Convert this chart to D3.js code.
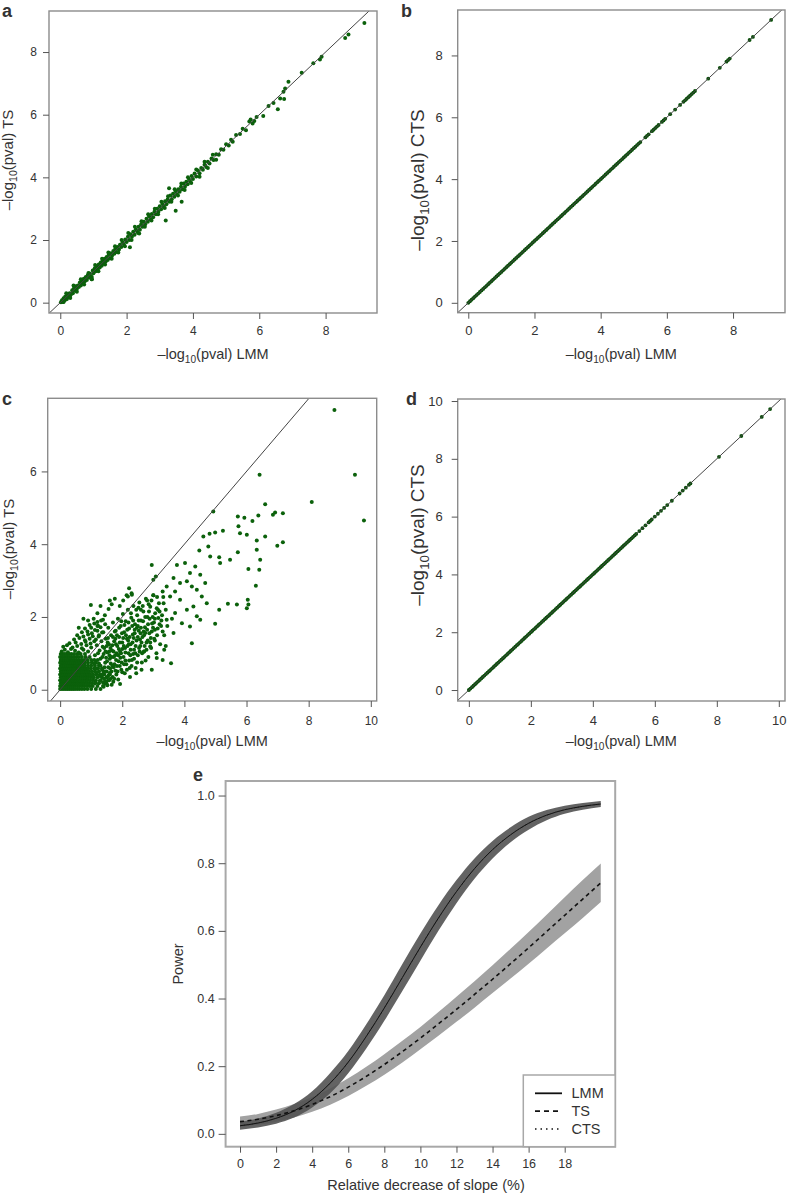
<!DOCTYPE html>
<html><head><meta charset="utf-8">
<script src="https://cdn.jsdelivr.net/npm/d3@7"></script>
<style>
body{margin:0;background:#fff}
text{font-family:"Liberation Sans",Arial,Helvetica,sans-serif;fill:#333}
</style>
</head><body>
<svg id="fig" width="787" height="1197"></svg>
<script>
// ---------------- DATA ----------------
// panel a: -log10 p LMM (x) vs TS (y)
const aPts = [[0.02,0.01],[0.05,0.08],[0.08,0.02],[0.1,0.14],[0.12,0.06],[0.15,0.2],[0.17,0.1],[0.2,0.12],[0.22,0.26],[0.25,0.18],[0.28,0.3],[0.3,0.22],[0.33,0.28],[0.36,0.4],[0.38,0.3],[0.41,0.45],[0.44,0.38],[0.47,0.52],[0.5,0.44],[0.53,0.55],[0.56,0.5],[0.59,0.64],[0.62,0.55],[0.65,0.7],[0.68,0.62],[0.71,0.76],[0.74,0.68],[0.77,0.82],[0.8,0.72],[0.83,0.88],[0.86,0.8],[0.89,0.93],[0.92,0.85],[0.95,0.75],[0.98,1.03],[1.0,0.94],[1.04,1.1],[1.07,1.0],[1.1,1.16],[1.13,1.06],[1.16,1.22],[1.19,1.12],[1.22,1.28],[1.25,1.18],[1.28,1.34],[1.31,1.24],[1.34,1.4],[1.37,1.31],[1.4,1.46],[1.43,1.36],[1.46,1.52],[1.5,1.42],[1.53,1.58],[1.56,1.5],[1.6,1.65],[1.63,1.56],[1.66,1.72],[1.7,1.62],[1.73,1.78],[1.77,1.7],[1.8,1.85],[1.84,1.78],[1.88,1.93],[1.92,1.85],[1.96,2.02],[2.0,1.94],[2.04,2.1],[2.08,2.0],[2.12,2.18],[2.16,2.1],[2.2,2.26],[2.24,2.17],[2.28,2.34],[2.32,2.26],[2.36,2.42],[2.4,2.33],[2.44,2.5],[2.48,2.42],[2.52,2.58],[2.56,2.5],[2.6,2.68],[2.64,2.58],[2.68,2.76],[2.72,2.66],[2.76,2.83],[2.8,2.73],[2.84,2.9],[2.88,2.82],[2.92,3.0],[2.96,2.9],[3.0,3.08],[3.04,2.98],[3.08,3.15],[3.12,3.06],[3.16,3.24],[3.2,3.14],[3.24,3.3],[3.28,3.22],[3.32,3.42],[3.36,3.3],[3.4,3.48],[3.44,3.38],[3.48,3.56],[3.52,3.46],[3.56,3.62],[3.6,3.54],[3.64,3.7],[3.68,3.62],[3.72,3.8],[3.76,3.7],[3.8,3.86],[3.84,3.78],[3.88,3.95],[3.92,3.86],[3.96,4.04],[4.0,3.95],[4.05,4.12],[4.1,4.03],[4.15,4.22],[4.2,4.13],[4.25,4.3],[4.3,4.24],[4.35,4.4],[4.4,4.33],[4.45,4.5],[4.5,4.44],[4.56,4.6],[4.62,4.55],[4.7,4.74],[4.78,4.72],[4.85,4.9],[4.92,4.88],[5.0,5.06],[5.08,5.02],[5.15,5.2],[5.2,5.14],
[0.1,0.02],[0.18,0.3],[0.3,0.15],[0.4,0.55],[0.5,0.35],[0.62,0.75],[0.72,0.58],[0.85,0.95],[0.95,0.82],[1.05,1.2],[1.15,1.0],[1.26,1.4],[1.35,1.22],[1.45,1.6],[1.55,1.4],[1.65,1.8],[1.75,1.6],[1.85,2.0],[1.95,1.8],[2.05,2.22],[2.15,2.0],[2.25,2.42],[2.35,2.22],[2.45,2.6],[2.55,2.42],[2.65,2.82],[2.75,2.62],[2.85,3.0],[2.95,2.82],[3.05,3.22],[3.15,3.02],[3.25,3.4],[3.35,3.22],[3.45,3.62],[3.55,3.42],[3.65,3.8],[3.75,3.6],[3.85,4.0],[3.95,3.82],[4.1,4.25],[4.2,4.02],[4.35,4.5],[4.45,4.3],[4.6,4.72],[4.7,4.56],
[3.66,3.22],[3.48,2.93],[3.18,2.62],[2.1,1.77],[2.38,2.21],[0.95,0.75],[3.28,3.65],
[5.3,5.35],[5.42,5.38],[5.5,5.55],[5.6,5.5],[5.7,5.78],[5.74,5.85],[5.8,5.72],[5.85,5.8],[5.92,5.93],[6.12,5.96],[6.28,6.28],[6.43,6.37],[6.56,6.17],[6.63,6.52],[6.75,6.5],[6.73,6.73],[6.78,6.84],[6.88,7.05],[7.28,7.34],[7.63,7.64],[7.83,7.76],[7.88,7.85],[8.59,8.45],[8.69,8.56],[9.17,8.93]];

// panel b: LMM vs CTS (points lie on y = x)
const bVals = [0,.05,.1,.15,.2,.25,.3,.35,.4,.45,.5,.55,.6,.65,.7,.75,.8,.85,.9,.95,1,1.05,1.1,1.15,1.2,1.25,1.3,1.35,1.4,1.45,1.5,1.55,1.6,1.65,1.7,1.75,1.8,1.85,1.9,1.95,2,2.05,2.1,2.15,2.2,2.25,2.3,2.35,2.4,2.45,2.5,2.55,2.6,2.65,2.7,2.75,2.8,2.85,2.9,2.95,3,3.05,3.1,3.15,3.2,3.25,3.3,3.35,3.4,3.45,3.5,3.55,3.6,3.65,3.7,3.75,3.8,3.85,3.9,3.95,4,4.05,4.1,4.15,4.2,4.25,4.3,4.35,4.4,4.45,4.5,4.55,4.6,4.65,4.7,4.75,4.8,
4.85,4.9,4.95,5.0,5.05,5.1,5.15,5.2,5.35,5.4,5.45,5.55,5.6,5.65,5.7,5.75,5.85,5.9,5.95,6.1,6.25,6.4,6.5,6.55,6.6,6.65,6.7,6.75,6.8,6.85,7.25,7.6,7.8,7.85,7.9,8.5,8.6,9.15];

// panel c: LMM vs TS (second data set). Dense block near origin as rows [y, [x...]]
const cRows = [
[0.02,[0,0.06,0.12,0.18,0.24,0.3,0.36,0.42,0.48,0.55,0.62,0.7,0.78,0.88,1.0,1.15,1.3]],
[0.1,[0,0.06,0.12,0.18,0.24,0.3,0.36,0.42,0.48,0.55,0.62,0.7,0.78,0.86,0.95,1.05,1.2,1.38]],
[0.18,[0.02,0.08,0.14,0.2,0.26,0.32,0.38,0.44,0.5,0.56,0.63,0.7,0.77,0.85,0.93,1.02,1.12,1.25,1.45]],
[0.26,[0,0.06,0.12,0.18,0.24,0.3,0.36,0.42,0.48,0.54,0.6,0.67,0.74,0.81,0.88,0.96,1.05,1.15,1.3,1.55]],
[0.34,[0.02,0.08,0.14,0.2,0.26,0.32,0.38,0.44,0.5,0.56,0.62,0.69,0.76,0.83,0.9,0.98,1.08,1.2,1.35,1.5]],
[0.42,[0,0.06,0.12,0.18,0.24,0.3,0.36,0.42,0.48,0.54,0.6,0.67,0.74,0.81,0.89,0.97,1.06,1.16,1.28,1.42,1.6]],
[0.5,[0.02,0.08,0.14,0.2,0.26,0.32,0.38,0.44,0.5,0.56,0.63,0.7,0.77,0.85,0.93,1.02,1.12,1.25,1.4]],
[0.58,[0,0.06,0.12,0.18,0.24,0.3,0.36,0.42,0.48,0.54,0.6,0.67,0.74,0.82,0.9,0.99,1.1,1.22,1.35]],
[0.66,[0.02,0.08,0.14,0.2,0.26,0.32,0.38,0.44,0.5,0.57,0.64,0.72,0.8,0.9,1.0,1.12,1.25]],
[0.74,[0,0.06,0.12,0.18,0.24,0.3,0.36,0.42,0.49,0.56,0.64,0.72,0.8,0.9,1.02,1.15]],
[0.82,[0.02,0.08,0.14,0.2,0.26,0.32,0.38,0.45,0.52,0.6,0.68,0.77,0.88,1.0,1.1]],
[0.9,[0,0.06,0.12,0.18,0.24,0.3,0.37,0.44,0.52,0.6,0.7,0.82,0.95]],
[0.98,[0.02,0.08,0.14,0.21,0.28,0.36,0.45,0.55,0.66,0.8]]
];
// panel c: scattered points (upper-left spill, middle cloud, outliers)
const cUpper = [[0.05,1.05],[0.15,1.1],[0.25,1.03],[0.35,1.12],[0.48,1.07],[0.6,1.02],[0.75,1.1],[0.9,1.05],[0.1,1.18],[0.22,1.22],[0.4,1.16],[0.55,1.2],[0.7,1.14],[0.85,1.22],[1.0,1.16],[0.3,1.28],[0.5,1.3],[0.68,1.26],[0.82,1.32],[0.98,1.27],[1.1,1.33],[0.45,1.38],[0.62,1.42],[0.8,1.36],[0.95,1.4],[1.15,1.38],[0.55,1.5],[0.75,1.46],[0.9,1.52],[1.05,1.47],[1.25,1.5],[0.7,1.58],[0.88,1.6],[1.02,1.55],[1.2,1.62],[1.35,1.57],[0.8,1.68],[1.0,1.7],[1.12,1.64],[1.3,1.72],[0.95,1.78],[1.1,1.82],[1.22,1.76],[1.45,1.8],[0.9,1.9],[1.08,1.95],[1.2,1.86],[1.38,1.92],[0.75,1.95],[0.6,1.7],[1.2,2.1],[1.3,2.3],[1.6,2.45]];
const cMid = [[1.12,0.95],[1.18,1.22],[1.21,0.82],[1.24,1.46],[1.27,1.08],[1.3,0.66],[1.33,1.33],[1.36,0.9],[1.39,1.58],[1.42,1.15],[1.45,0.74],[1.47,1.4],[1.5,0.5],[1.52,1.02],[1.55,1.7],[1.57,1.25],[1.6,0.85],[1.62,0.3],[1.64,1.5],[1.67,1.08],[1.7,1.85],[1.72,0.62],[1.74,1.33],[1.77,0.95],[1.79,1.62],[1.81,0.42],[1.84,1.2],[1.86,1.95],[1.88,0.78],[1.9,1.45],[1.93,1.05],[1.95,1.75],[1.97,0.55],[2.0,1.3],[2.02,2.08],[2.04,0.9],[2.06,1.58],[2.09,1.15],[2.11,1.88],[2.13,0.7],[2.15,1.4],[2.18,2.2],[2.2,1.0],[2.22,1.68],[2.25,0.35],[2.27,1.25],[2.29,1.98],[2.31,0.82],[2.34,1.52],[2.36,2.3],[2.38,1.1],[2.41,1.8],[2.43,0.6],[2.46,1.35],[2.48,2.05],[2.5,0.95],[2.53,1.62],[2.55,2.4],[2.58,1.2],[2.6,1.9],[2.63,0.75],[2.65,1.45],[2.68,2.15],[2.7,1.05],[2.73,1.72],[2.76,2.5],[2.78,1.3],[2.81,2.0],[2.84,0.9],[2.87,1.55],[2.9,2.28],[2.93,1.15],[2.96,1.82],[3.0,2.6],[3.03,1.4],[3.06,2.1],[3.1,1.0],[3.14,1.68],[3.18,2.38],[3.22,1.25],[3.26,1.9],[3.3,2.7],[3.35,1.5],[3.4,2.2],
[1.15,0.58],[1.2,1.75],[1.26,0.38],[1.32,1.9],[1.38,0.2],[1.44,2.05],[1.5,1.2],[1.56,2.22],[1.61,0.58],[1.66,2.35],[1.71,0.22],[1.76,2.5],[1.82,1.0],[1.87,0.28],[1.92,2.3],[1.98,0.75],[2.03,2.45],[2.08,0.45],[2.14,2.6],[2.19,1.35],[2.24,0.6],[2.3,2.65],[2.35,0.98],[2.4,1.55],[2.45,0.45],[2.52,2.25],[2.57,1.38],[2.62,0.55],[2.67,1.88],[2.72,1.2],[2.8,1.65],[2.85,2.35],[2.92,1.42],[2.98,2.0],[3.05,1.65],[3.12,2.55],[3.2,1.8],[3.28,2.05],[3.35,1.1],[3.45,1.75],
[1.25,0.72],[1.35,0.55],[1.4,0.98],[1.48,0.88],[1.53,1.3],[1.58,1.05],[1.63,0.72],[1.68,1.22],[1.73,0.9],[1.78,1.4],[1.83,0.65],[1.89,1.12],[1.94,0.88],[1.99,1.55],[2.05,1.2],[2.1,0.8],[2.16,1.65],[2.21,1.25],[2.26,0.95],[2.32,1.75],[2.37,1.42],[2.42,1.0],[2.47,1.7],[2.54,1.15],[2.59,1.55],[2.64,1.0],[2.69,1.6],[2.75,0.8],[2.82,1.35],[2.88,1.95],[2.95,1.6],[3.02,1.85],
[1.05,0.35],[1.1,0.72],[1.14,0.2],[1.18,0.48],[1.22,1.0],[1.28,0.25],[1.3,0.85],[1.34,0.42],[1.37,1.18],[1.41,0.3],[1.43,0.62],[1.46,1.05],[1.49,0.18],[1.51,0.78],[1.54,1.42],[1.56,0.4],[1.59,0.95],[1.62,1.15],[1.65,0.5],[1.66,0.9],[1.69,0.35],[1.7,1.45],[1.72,1.05],[1.75,0.7],[1.76,1.6],[1.8,0.82],[1.8,1.25],[1.83,1.5],[1.85,0.5],[1.87,0.95],[1.9,1.7],[1.92,0.65],[1.92,1.3],[1.96,1.0],[1.97,1.88],[2.0,0.48],[2.0,1.12],[2.03,1.42],[2.06,0.7],[2.07,1.78],[2.1,1.02],[2.12,1.5],[2.15,0.55],[2.17,1.2],[2.2,1.85],[2.22,0.8],[2.24,1.45],[2.27,1.1],[2.28,2.1],[2.3,0.65],[2.33,1.3],[2.35,1.9],[2.38,0.85],[2.4,1.65],[2.43,1.2],[2.45,2.2],[2.48,0.75],[2.5,1.45],[2.53,1.9],[2.56,1.05],[2.6,1.7],[2.62,1.3],[2.66,2.3],[2.7,1.5],[2.74,2.0],[2.78,1.1],[2.83,1.8],[2.86,2.15],[2.9,1.3],[2.94,2.45],[2.99,1.7],[3.05,1.95],[3.12,1.5],[3.15,2.2],[3.25,1.75],[3.32,2.55],
[1.4,0.08],[1.45,0.24],[1.52,0.12],[1.58,0.26],[1.66,0.14],[1.74,0.3],[1.5,0.34],[1.6,0.46],[1.78,0.52],[1.55,0.62],[1.68,0.66],[1.45,0.5]];
const cOut = [[8.83,7.69],[9.49,5.91],[9.78,4.65],[8.1,5.16],[6.42,5.91],[6.6,5.1],
[7.17,4.85],[6.92,4.87],[6.85,4.81],[6.38,4.79],[6.19,4.64],[5.93,4.73],[5.72,4.76],[4.93,4.9],
[5.74,4.49],[5.79,4.3],[6.01,4.26],[6.6,4.21],[6.33,4.1],[7.17,4.05],[6.99,3.96],
[5.24,4.37],[4.99,4.32],[4.81,4.29],[4.61,4.21],
[4.48,3.83],[4.77,3.94],[4.83,3.66],[5.12,3.64],[5.15,3.48],[5.47,3.57],[5.72,3.78],[6.06,3.32],[6.33,3.85],[6.44,3.57],[6.41,3.3],[6.3,2.86],[6.04,2.47],[6.06,2.34],[6.01,2.24],[5.69,2.34],[5.4,2.36],[5.12,2.2],[4.99,1.81],
[4.18,3.21],[4.35,3.39],[4.51,3.16],[4.08,2.98],[4.24,2.84],[4.4,2.75],[4.67,2.93],[4.56,2.56],[4.72,2.38],[4.29,2.29],[4.08,2.2],[3.86,2.47],[3.7,2.7],[3.86,2.93],[4.02,3.48],[3.76,3.43],[3.65,3.07],[3.43,2.84],[3.54,2.56],[3.33,2.38],[3.11,2.24],[3.16,1.97],[3.43,1.92],[3.7,2.11],[3.92,1.83],[3.65,1.56],[4.18,1.74],[4.4,2.02],[4.51,1.92],[4.24,1.28],
[2.95,3.43],[3.08,3.11],[3.0,3.02],[2.22,2.79],[0.99,2.33],[2.18,2.56],[2.31,2.61],
[2.95,0.55],[3.57,0.73],[3.3,0.82],[3.11,0.87],[2.74,1.56],[2.9,1.19],
[2.6,2.2],[2.8,2.45],[3.0,2.6],[3.2,2.15],[2.5,1.75],[3.3,1.6],[3.05,1.35],[2.7,1.05],[3.4,1.2],[3.6,1.95],[1.93,0.16]];

// panel d: LMM vs CTS (second data set, points on y = x)
const dVals = [0,.05,.1,.15,.2,.25,.3,.35,.4,.45,.5,.55,.6,.65,.7,.75,.8,.85,.9,.95,1,1.05,1.1,1.15,1.2,1.25,1.3,1.35,1.4,1.45,1.5,1.55,1.6,1.65,1.7,1.75,1.8,1.85,1.9,1.95,2,2.05,2.1,2.15,2.2,2.25,2.3,2.35,2.4,2.45,2.5,2.55,2.6,2.65,2.7,2.75,2.8,2.85,2.9,2.95,3,3.05,3.1,3.15,3.2,3.25,3.3,3.35,3.4,3.45,3.5,3.55,3.6,3.65,3.7,3.75,3.8,3.85,3.9,3.95,4,4.05,4.1,4.15,4.2,4.25,4.3,4.35,4.4,4.45,4.5,4.55,4.6,4.65,4.7,4.75,4.8,4.85,4.9,4.95,5,5.05,5.1,5.15,5.2,5.25,5.3,5.35,
5.4,5.5,5.6,5.7,5.8,5.85,5.9,6.0,6.1,6.2,6.3,6.4,6.55,6.8,6.9,7.0,7.1,7.15,8.07,8.79,9.45,9.72];

// panel e: power curves
const eX     = [0,1,2,3,4,5,6,7,8,9,10,11,12,13,14,15,16,17,18,19,20];
const lmm    = [0.024,0.032,0.046,0.068,0.102,0.15,0.212,0.288,0.372,0.462,0.552,0.638,0.716,0.784,0.84,0.884,0.918,0.942,0.958,0.968,0.975];
const lmmLo  = [0.012,0.019,0.03,0.048,0.078,0.12,0.179,0.252,0.334,0.422,0.512,0.6,0.682,0.754,0.814,0.862,0.899,0.927,0.946,0.958,0.966];
const lmmHi  = [0.036,0.045,0.062,0.088,0.126,0.18,0.245,0.324,0.41,0.502,0.592,0.676,0.75,0.814,0.866,0.906,0.937,0.957,0.97,0.978,0.984];
const ts     = [0.036,0.043,0.054,0.068,0.087,0.11,0.138,0.17,0.205,0.243,0.283,0.325,0.368,0.412,0.457,0.503,0.55,0.598,0.646,0.694,0.742];
const tsLo   = [0.021,0.027,0.036,0.048,0.065,0.086,0.112,0.142,0.175,0.211,0.25,0.29,0.331,0.373,0.416,0.459,0.503,0.548,0.593,0.638,0.685];
const tsHi   = [0.051,0.059,0.072,0.088,0.109,0.134,0.164,0.198,0.235,0.275,0.316,0.36,0.405,0.451,0.498,0.547,0.597,0.648,0.699,0.75,0.799];
const cts    = [0.024,0.032,0.046,0.068,0.102,0.15,0.212,0.288,0.372,0.462,0.552,0.638,0.716,0.784,0.84,0.884,0.918,0.942,0.958,0.968,0.975];
const eXTicks = [0,2,4,6,8,10,12,14,16,18];
const eYTicks = [0,0.2,0.4,0.6,0.8,1.0];
const legendNames = ["LMM","TS","CTS"];

// ---------------- DRAW ----------------
const svg = d3.select('#fig');
const GREEN = '#0b610b';

function titleText(g, x, y, rotate, size, suffix, anchor) {
  const t = g.append('text')
    .attr('transform', `translate(${x},${y})` + (rotate ? ' rotate(-90)' : ''))
    .attr('text-anchor', anchor || 'middle')
    .style('font-size', size + 'px');
  t.append('tspan').text('\u2013log');
  t.append('tspan').text('10').style('font-size', (size*0.7) + 'px').attr('dy', size*0.28);
  t.append('tspan').text('(pval) ' + suffix).attr('dy', -size*0.28);
  return t;
}

function scatterPanel(c) {
  const g = svg.append('g');
  const x = d3.scaleLinear().domain(c.xd).range([c.box[0], c.box[2]]);
  const y = d3.scaleLinear().domain(c.yd).range([c.box[3], c.box[1]]);
  const id = 'clip' + c.letter;
  svg.append('clipPath').attr('id', id).append('rect')
    .attr('x', c.box[0]).attr('y', c.box[1])
    .attr('width', c.box[2]-c.box[0]).attr('height', c.box[3]-c.box[1]);
  const inner = g.append('g').attr('clip-path', `url(#${id})`);
  inner.selectAll('circle').data(c.pts).join('circle')
    .attr('cx', d => x(d[0])).attr('cy', d => y(d[1]))
    .attr('r', c.r).attr('fill', c.col || GREEN);
  inner.append('line')
    .attr('x1', x(-2)).attr('y1', y(-2)).attr('x2', x(12)).attr('y2', y(12))
    .attr('stroke', '#444').attr('stroke-width', 1);
  g.append('rect').attr('x', c.box[0]).attr('y', c.box[1])
    .attr('width', c.box[2]-c.box[0]).attr('height', c.box[3]-c.box[1])
    .attr('fill', 'none').attr('stroke', '#8c8c8c').attr('stroke-width', 1.4);
  const ax = g.append('g').attr('transform', `translate(0,${c.box[3]})`)
    .call(d3.axisBottom(x).tickValues(c.xt).tickSize(6).tickPadding(c.xpad).tickFormat(d3.format('d')));
  const ay = g.append('g').attr('transform', `translate(${c.box[0]},0)`)
    .call(d3.axisLeft(y).tickValues(c.yt).tickSize(6).tickPadding(c.ypad).tickFormat(d3.format('d')));
  [ax, ay].forEach(a => {
    a.select('.domain').remove();
    a.selectAll('line').attr('stroke', '#555');
    a.selectAll('text').style('font-size', c.tick + 'px').style('font-family', '"Liberation Sans",Arial,sans-serif').attr('fill', '#333');
  });
  titleText(g, (c.box[0]+c.box[2])/2, c.xtb, false, 14.5, 'LMM');
  titleText(g, c.ytx, c.yty, true, c.ytSize, c.ylab);
  g.append('text').attr('x', c.lx).attr('y', c.ly).text(c.letter)
    .style('font-size', '18px').style('font-weight', 'bold').attr('fill', '#111');
}

scatterPanel({letter:'a', box:[49,11,377,313], xd:[-0.34,9.55], yd:[-0.33,9.31],
  xt:[0,2,4,6,8], yt:[0,2,4,6,8], pts:aPts, r:2.0, xpad:7, ypad:6, tick:12,
  xtb:359, ytx:13, yty:160, ytSize:15, ylab:'TS', lx:2, ly:17});
scatterPanel({letter:'b', box:[457.7,10,785,312.7], xd:[-0.32,9.57], yd:[-0.32,9.47],
  xt:[0,2,4,6,8], yt:[0,2,4,6,8], pts:bVals.map(v=>[v,v]), r:1.9, col:'#0a500a', xpad:7, ypad:9, tick:13,
  xtb:359, ytx:424, yty:180, ytSize:19, ylab:'CTS', lx:401, ly:17});
const cAll = cRows.flatMap(r => r[1].map(xv => [xv, r[0]])).concat(cUpper, cMid, cOut);
scatterPanel({letter:'c', box:[47.7,398.3,376.7,701], xd:[-0.4,10.19], yd:[-0.31,8.01],
  xt:[0,2,4,6,8,10], yt:[0,2,4,6], pts:cAll, r:2.0, xpad:9, ypad:5, tick:12,
  xtb:746, ytx:14, yty:549, ytSize:15, ylab:'TS', lx:2, ly:405});
scatterPanel({letter:'d', box:[457.7,399,785,701], xd:[-0.36,10.2], yd:[-0.38,10.07],
  xt:[0,2,4,6,8,10], yt:[0,2,4,6,8,10], pts:dVals.map(v=>[v,v]), r:1.9, col:'#0a500a', xpad:9, ypad:9, tick:13,
  xtb:746, ytx:424, yty:535, ytSize:19, ylab:'CTS', lx:406, ly:405});

// panel e
(function(){
  const box = [225.6, 781, 615.2, 1146.7];
  const g = svg.append('g');
  const x = d3.scaleLinear().domain([-0.8, 20.8]).range([box[0], box[2]]);
  const y = d3.scaleLinear().domain([-0.038, 1.043]).range([box[3], box[1]]);
  const idx = eX.map((v,i)=>i);
  const band = (lo, hi) => d3.area().x(i => x(eX[i])).y0(i => y(lo[i])).y1(i => y(hi[i])).curve(d3.curveMonotoneX)(idx);
  const line = arr => d3.line().x(i => x(eX[i])).y(i => y(arr[i])).curve(d3.curveMonotoneX)(idx);
  g.append('path').attr('d', band(tsLo, tsHi)).attr('fill', '#a2a2a2');
  g.append('path').attr('d', band(lmmLo, lmmHi)).attr('fill', '#525252').attr('fill-opacity', 0.9);
  g.append('path').attr('d', line(ts)).attr('fill','none').attr('stroke','#111').attr('stroke-width',1.6).attr('stroke-dasharray','4,3.5');
  g.append('path').attr('d', line(lmm)).attr('fill','none').attr('stroke','#111').attr('stroke-width',1);
  g.append('path').attr('d', line(cts)).attr('fill','none').attr('stroke','#222').attr('stroke-width',1).attr('stroke-dasharray','1,3');
  g.append('rect').attr('x', box[0]).attr('y', box[1]).attr('width', box[2]-box[0]).attr('height', box[3]-box[1])
    .attr('fill','none').attr('stroke','#a8a8a8').attr('stroke-width',2);
  const ax = g.append('g').attr('transform', `translate(0,${box[3]})`)
    .call(d3.axisBottom(x).tickValues(eXTicks).tickSize(6).tickPadding(6).tickFormat(d3.format('d')));
  const ay = g.append('g').attr('transform', `translate(${box[0]},0)`)
    .call(d3.axisLeft(y).tickValues(eYTicks).tickSize(7).tickPadding(4).tickFormat(d3.format('.1f')));
  [ax, ay].forEach(a => {
    a.select('.domain').remove();
    a.selectAll('line').attr('stroke', '#555');
    a.selectAll('text').style('font-size', '12.5px').style('font-family', '"Liberation Sans",Arial,sans-serif').attr('fill', '#333');
  });
  g.append('text').attr('x', 426).attr('y', 1190).attr('text-anchor','middle')
    .style('font-size','14.5px').text('Relative decrease of slope (%)');
  g.append('text').attr('transform','translate(183,964) rotate(-90)').attr('text-anchor','middle')
    .style('font-size','14.5px').text('Power');
  g.append('text').attr('x', 193).attr('y', 781).text('e')
    .style('font-size','18px').style('font-weight','bold').attr('fill','#111');
  // legend
  const lg = g.append('g');
  lg.append('rect').attr('x', 523.3).attr('y', 1075).attr('width', 615.2-523.3).attr('height', 1146.7-1075)
    .attr('fill','#fff').attr('stroke','#a8a8a8').attr('stroke-width',1.5);
  const dashes = [null, '5,4', '1.5,4'];
  const widths = [1.8, 1.8, 1.5];
  legendNames.forEach((n, i) => {
    const yy = 1093.3 + i*17.9;
    lg.append('line').attr('x1', 535).attr('x2', 562).attr('y1', yy).attr('y2', yy)
      .attr('stroke','#111').attr('stroke-width', widths[i]).attr('stroke-dasharray', dashes[i]);
    lg.append('text').attr('x', 571.5).attr('y', yy + 5).style('font-size','14.5px').text(n);
  });
})();
</script>
</body></html>
